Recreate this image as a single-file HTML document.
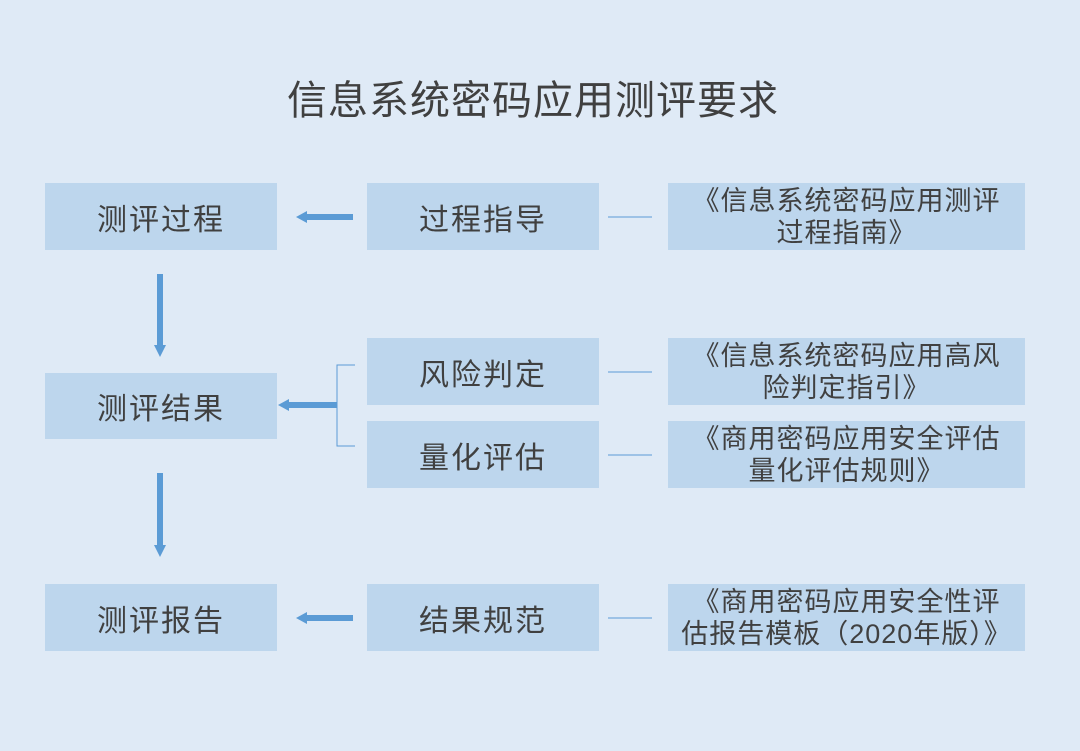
<!DOCTYPE html>
<html><head><meta charset="utf-8"><style>
body{margin:0;width:1080px;height:751px;background:#dfeaf6;font-family:"Liberation Sans","Noto Sans CJK SC",sans-serif;color:#404040;position:relative;overflow:hidden}
.t{position:absolute;left:0;width:1066px;top:68px;text-align:center;font-size:40px;letter-spacing:1px}
.b{position:absolute;background:#bdd6ed;display:flex;align-items:center;justify-content:center;text-align:center;font-size:30px;letter-spacing:2px}
.r{font-size:27px;line-height:32px;letter-spacing:1px}
svg{position:absolute;left:0;top:0}
</style></head><body>
<div class="t">信息系统密码应用测评要求</div>
<div class="b" style="left:45px;top:183px;width:232px;height:67px">测评过程</div>
<div class="b" style="left:45px;top:373px;width:232px;height:66px">测评结果</div>
<div class="b" style="left:45px;top:584px;width:232px;height:67px">测评报告</div>
<div class="b" style="left:367px;top:183px;width:232px;height:67px">过程指导</div>
<div class="b" style="left:367px;top:338px;width:232px;height:67px">风险判定</div>
<div class="b" style="left:367px;top:421px;width:232px;height:67px">量化评估</div>
<div class="b" style="left:367px;top:584px;width:232px;height:67px">结果规范</div>
<div class="b r" style="left:668px;top:183px;width:357px;height:67px">《信息系统密码应用测评<br>过程指南》</div>
<div class="b r" style="left:668px;top:338px;width:357px;height:67px">《信息系统密码应用高风<br>险判定指引》</div>
<div class="b r" style="left:668px;top:421px;width:357px;height:67px">《商用密码应用安全评估<br>量化评估规则》</div>
<div class="b r" style="left:668px;top:584px;width:357px;height:67px">《商用密码应用安全性评<br>估报告模板（2020年版）》</div>
<svg width="1080" height="751">
<g fill="#5b9bd5">
<rect x="305" y="214" width="48" height="6"/><polygon points="296,217 307,211 307,223"/>
<rect x="305" y="615" width="48" height="6"/><polygon points="296,618 307,612 307,624"/>
<rect x="287" y="402" width="50" height="6"/><polygon points="278,405 289,399 289,411"/>
<rect x="157" y="274" width="6" height="72"/><polygon points="160,357 154,345 166,345"/>
<rect x="157" y="473" width="6" height="73"/><polygon points="160,557 154,545 166,545"/>
</g>
<g stroke="#5b9bd5" stroke-width="1" fill="none">
<path d="M355,365 H337 V446 H355"/>
<line x1="608" y1="217" x2="652" y2="217"/>
<line x1="608" y1="372" x2="652" y2="372"/>
<line x1="608" y1="455" x2="652" y2="455"/>
<line x1="608" y1="618" x2="652" y2="618"/>
</g>
</svg>
</body></html>
